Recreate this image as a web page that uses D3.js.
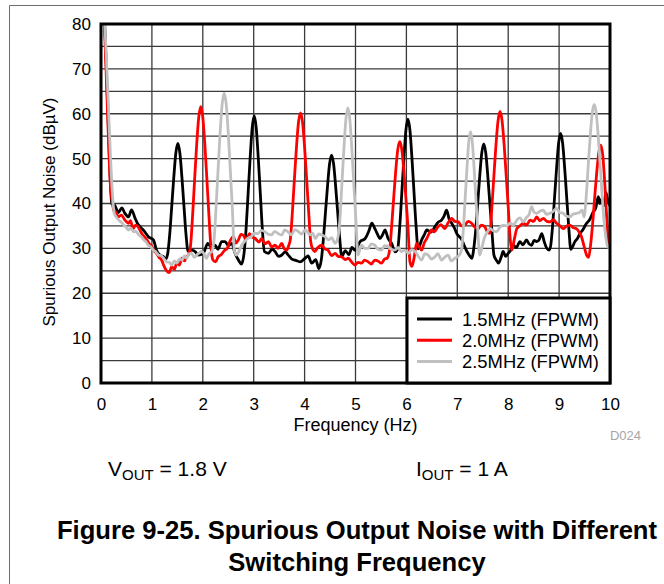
<!DOCTYPE html>
<html>
<head>
<meta charset="utf-8">
<script src="https://cdn.jsdelivr.net/npm/d3@7"></script>
<style>
  body { margin: 0; background: #fff; }
  svg { display: block; }
  text { font-family: "Liberation Sans", Arial, Helvetica, sans-serif; }
</style>
</head>
<body>
<svg id="chart" width="664" height="584"></svg>
<script>
// Spectrum traces: [frequency (Hz), noise (dBµV)]
const trace15 = [
  [0.02,88],[0.08,78],[0.13,62],[0.18,46],[0.21,40],[0.27,39.6],[0.34,38],[0.41,39],[0.47,37.8],[0.54,37],[0.6,38.6],[0.67,36.7],[0.72,35.5],[0.77,34.8],[0.86,33.7],[0.93,32.6],[1.03,31.9],[1.09,29.6],[1.16,28.5],[1.22,28.2],[1.27,27.6],
  [1.31,28.8],[1.35,33.1],[1.39,39.4],[1.43,45.8],[1.47,51.2],[1.51,53.4],[1.55,51.2],[1.59,45.8],[1.63,39.4],[1.67,33.1],[1.71,29.4],
  [1.78,29.6],[1.85,29.3],[1.91,28.5],[2.01,28.9],[2.1,31.1],[2.17,30.2],[2.24,30.7],[2.3,29.8],[2.37,31.5],[2.44,31.5],[2.5,30.6],[2.57,31.1],[2.63,29],[2.7,27.4],[2.76,26.5],
  [2.81,28.9],[2.85,34.3],[2.89,42.2],[2.93,50.1],[2.97,56.8],[3.01,59.5],[3.05,56.8],[3.09,50.1],[3.13,42.2],[3.17,34.3],[3.21,29.3],
  [3.29,28.9],[3.36,29.8],[3.42,29.3],[3.49,28.2],[3.55,28.5],[3.62,29.2],[3.68,28.5],[3.75,27.6],[3.81,27.4],[3.91,27.0],[4.01,27.8],[4.07,28.3],[4.14,26.7],[4.22,27.5],[4.28,25.5],[4.33,27.6],
  [4.37,32.2],[4.41,38.0],[4.45,43.8],[4.49,48.8],[4.53,50.8],[4.57,48.8],[4.61,43.8],[4.65,38.0],[4.69,32.2],[4.73,28.2],
  [4.8,29.5],[4.87,28.6],[4.93,30.2],[4.99,29.6],[5.09,31.5],[5.19,32.2],[5.26,33.8],[5.32,35.6],[5.38,34.4],[5.43,33.2],[5.48,32.2],[5.53,33.0],[5.58,34.1],[5.64,32.2],[5.71,31.1],[5.78,29.2],
  [5.83,29.9],[5.87,35.0],[5.91,42.4],[5.95,49.9],[5.99,56.3],[6.03,58.8],[6.07,56.3],[6.11,49.9],[6.15,42.4],[6.19,35.0],[6.23,29.9],
  [6.3,31.9],[6.35,33.0],[6.4,34.1],[6.48,33.6],[6.56,34.8],[6.62,35.8],[6.69,36.3],[6.74,37.2],[6.79,38.5],[6.84,36.5],[6.89,35.6],[6.94,34.6],[6.99,33.3],[7.09,31.9],[7.14,30.5],[7.19,29.3],[7.24,28.4],[7.29,27.8],
  [7.32,29.7],[7.36,33.9],[7.40,39.9],[7.44,46.0],[7.48,51.2],[7.52,53.3],[7.56,51.2],[7.60,46.0],[7.64,39.9],[7.68,33.9],[7.72,28.5],
  [7.76,27.5],[7.81,26.7],[7.86,28.0],[7.9,29.3],[7.95,28.2],[8.0,28.9],[8.05,29.6],[8.1,30.7],[8.16,30.2],[8.23,31.5],[8.29,30.8],[8.36,31.9],[8.41,31.0],[8.46,30.7],[8.51,31.8],[8.56,31.5],[8.61,32.0],[8.66,33.3],[8.71,31.4],[8.76,30.0],[8.8,29.6],
  [8.83,30.3],[8.87,34.7],[8.91,41.2],[8.95,47.8],[8.99,53.4],[9.03,55.6],[9.07,53.4],[9.11,47.8],[9.15,41.2],[9.19,34.7],[9.23,29.8],
  [9.27,30.5],[9.31,31.5],[9.36,32.2],[9.41,33.3],[9.47,34.2],[9.54,35.6],[9.6,36.4],[9.67,38.1],[9.72,39.0],[9.77,41.5],[9.8,40.0],[9.84,41.0],[9.88,39.5],[9.92,42.5],[9.96,40.5],[10.0,39.5]
];

const trace20 = [
  [0.02,87],[0.08,76],[0.13,60],[0.18,45],[0.22,40.5],[0.25,38.5],[0.29,38.1],[0.34,37],[0.4,37.4],[0.47,36.3],[0.54,35.6],[0.58,36.2],[0.63,34.4],[0.68,35.2],[0.73,34.8],[0.8,33.3],[0.85,32.6],[0.9,31.9],[0.95,31.0],[1.0,30.4],[1.05,29.4],[1.09,28.9],[1.14,28.0],[1.19,27.4],[1.24,26.0],[1.29,25.0],[1.34,24.6],[1.39,25.9],[1.44,25.3],[1.49,26.7],[1.54,26.3],[1.59,27.8],[1.64,27.2],[1.68,28.1],[1.72,28.6],
  [1.76,30.7],[1.80,37.4],[1.84,45.5],[1.88,53.2],[1.92,59.2],[1.96,61.6],[2.00,59.2],[2.04,53.2],[2.08,45.5],[2.12,37.4],[2.16,30.2],
  [2.2,27.4],[2.25,27.0],[2.3,28.1],[2.36,28.6],[2.43,29.6],[2.48,30.0],[2.53,31.5],[2.6,32.6],[2.65,31.2],[2.7,31.9],[2.75,33.1],[2.79,33.0],[2.85,32.0],[2.92,33.3],[2.97,32.5],[3.03,32.2],[3.1,31.4],[3.16,32.2],[3.22,31.0],[3.29,31.5],[3.35,30.3],[3.42,30.7],[3.48,30.0],[3.55,31.1],[3.6,29.9],[3.65,29.6],[3.69,30.7],
  [3.72,32.0],[3.76,38.1],[3.80,45.5],[3.84,52.5],[3.88,58.1],[3.92,60.2],[3.96,58.1],[4.00,52.5],[4.04,45.5],[4.08,38.1],[4.12,31.5],
  [4.16,29.8],[4.2,29.3],[4.26,30.2],[4.33,30.7],[4.4,29.9],[4.46,29.6],[4.53,28.4],[4.6,28.9],[4.66,28.2],[4.73,28.1],[4.8,27.5],[4.86,27.8],[4.92,27.0],[4.99,26.3],[5.05,26.9],[5.12,26.7],[5.18,27.4],[5.25,27.0],[5.31,26.5],[5.38,27.4],[5.44,27.2],[5.51,26.7],[5.57,27.6],[5.62,27.8],
  [5.67,29.6],[5.71,34.9],[5.75,41.2],[5.79,47.2],[5.83,52.0],[5.87,53.8],[5.91,52.0],[5.95,47.2],[5.99,41.2],[6.03,34.9],[6.07,27.0],
  [6.11,26.0],[6.15,27.8],[6.2,31.1],[6.25,30.4],[6.3,29.6],[6.35,31.2],[6.4,32.2],[6.45,33.4],[6.49,34.1],[6.55,33.7],[6.62,34.8],[6.68,35.3],[6.75,34.4],[6.82,35.7],[6.89,36.7],[6.95,36.0],[7.02,35.9],[7.08,35.0],[7.15,35.2],[7.21,36.0],[7.28,35.6],[7.34,34.8],[7.41,34.4],[7.47,35.2],[7.54,34.8],[7.6,33.5],
  [7.64,33.4],[7.68,39.3],[7.72,46.3],[7.76,53.1],[7.80,58.4],[7.84,60.5],[7.88,58.4],[7.92,53.1],[7.96,46.3],[8.00,39.3],[8.04,32.0],
  [8.07,29.6],[8.12,32.0],[8.17,34.4],[8.23,35.0],[8.3,35.6],[8.36,35.2],[8.43,36.3],[8.5,36.0],[8.56,37.0],[8.62,36.2],[8.69,36.7],[8.76,36.0],[8.82,35.9],[8.89,36.4],[8.95,35.6],[9.02,35.0],[9.08,34.4],[9.15,35.0],[9.21,35.2],[9.28,34.6],[9.34,34.4],[9.4,33.5],[9.44,32.6],[9.49,30.5],[9.54,28.5],[9.58,28.0],
  [9.62,30.9],[9.66,35.7],[9.70,41.5],[9.74,47.0],[9.78,51.3],[9.82,53.0],[9.86,50.5],[9.90,44.0],[9.94,36.0],[9.97,31.0],[10.0,30.0]
];

const trace25 = [
  [0.02,89],[0.08,79],[0.13,66],[0.18,52],[0.22,43],[0.26,37.8],[0.3,37.0],[0.35,36.3],[0.4,35.8],[0.45,35.2],[0.5,34.6],[0.54,34.1],[0.59,34.5],[0.64,33.7],[0.69,33.8],[0.74,33.0],[0.79,32.6],[0.84,31.9],[0.88,31.5],[0.93,30.7],[0.98,30.3],[1.03,29.6],[1.08,29.2],[1.13,28.5],[1.18,28.4],[1.23,27.8],[1.29,27.0],[1.34,26.9],[1.39,26.3],[1.44,27.2],[1.49,26.7],[1.54,27.6],[1.59,27.4],[1.64,28.3],[1.68,27.8],[1.73,28.8],[1.78,28.9],[1.83,28.0],[1.88,28.5],[1.93,29.0],[1.98,29.3],[2.03,28.7],[2.07,27.8],[2.12,28.8],[2.17,29.2],
  [2.22,31.8],[2.26,39.0],[2.30,47.5],[2.34,55.7],[2.38,62.1],[2.42,64.6],[2.46,62.1],[2.50,55.7],[2.54,47.5],[2.58,39.0],[2.62,29.5],
  [2.66,28.5],[2.72,29.6],[2.77,30.8],[2.82,31.5],[2.88,32.2],[2.95,32.6],[3.01,33.4],[3.08,33.3],[3.15,34.0],[3.22,33.7],[3.28,33.2],[3.35,33.0],[3.41,33.8],[3.48,33.3],[3.55,33.0],[3.61,34.1],[3.68,33.6],[3.74,33.0],[3.81,34.2],[3.88,33.7],[3.94,33.2],[4.01,34.1],[4.06,33.6],[4.11,33.0],[4.16,33.4],[4.21,32.2],[4.28,33.2],[4.34,33.0],[4.4,32.6],[4.47,31.9],[4.53,32.4],[4.6,31.1],
  [4.65,32.2],[4.69,35.9],[4.73,43.8],[4.77,51.8],[4.81,58.6],[4.85,61.3],[4.89,58.6],[4.93,51.8],[4.97,43.8],[5.01,35.9],[5.05,28.5],
  [5.08,29.5],[5.12,30.7],[5.18,30.0],[5.25,30.0],[5.31,31.0],[5.38,30.7],[5.44,29.8],[5.51,29.6],[5.57,30.6],[5.64,30.4],[5.7,29.8],[5.77,29.6],[5.84,30.2],[5.9,29.3],[5.97,29.6],[6.04,28.9],[6.1,29.7],[6.17,29.3],[6.23,28.3],[6.3,27.4],[6.36,28.8],[6.43,28.5],[6.49,27.6],[6.56,28.1],[6.62,28.8],[6.69,27.4],[6.75,28.0],[6.82,28.5],[6.88,27.2],[6.95,27.8],[7.02,28.3],
  [7.08,29.5],[7.12,34.4],[7.155,41.2],[7.19,47.9],[7.225,53.7],[7.26,56.0],[7.295,53.7],[7.33,47.9],[7.365,41.2],[7.40,34.4],[7.44,28.5],
  [7.49,30.5],[7.54,32.6],[7.59,33.6],[7.64,34.4],[7.7,34.0],[7.77,33.7],[7.83,34.6],[7.9,35.2],[7.97,35.0],[8.04,35.6],[8.1,35.2],[8.17,36.3],[8.23,36.8],[8.3,35.9],[8.36,36.9],[8.41,37.5],[8.46,39.3],[8.51,38.0],[8.56,37.8],[8.62,38.3],[8.69,38.5],[8.75,37.6],[8.82,37.8],[8.88,38.2],[8.95,38.9],[9.01,38.0],[9.08,37.8],[9.14,37.2],[9.21,37.0],[9.27,37.6],[9.34,37.8],[9.4,38.0],[9.45,38.5],
  [9.49,37.0],[9.53,41.1],[9.57,48.1],[9.61,54.8],[9.65,60.1],[9.69,62.1],[9.73,60.1],[9.77,54.8],[9.81,48.1],[9.85,41.1],[9.89,35.3],[9.93,31.5],[9.97,30.2],[10.0,31.0]
];

const seriesNames = ["1.5MHz (FPWM)", "2.0MHz (FPWM)", "2.5MHz (FPWM)"];
const seriesColors = ["#000000", "#ff0000", "#c0c0c0"];
const xTicks = [0, 1, 2, 3, 4, 5, 6, 7, 8, 9, 10];
const yTicks = [0, 10, 20, 30, 40, 50, 60, 70, 80];
const yGrid = [5, 10, 15, 20, 25, 30, 35, 40, 45, 50, 55, 60, 65, 70, 75];

const FONT = '"Liberation Sans", Arial, Helvetica, sans-serif';
const svg = d3.select("#chart");

// Plot box
const L = 101, R = 610, T = 24, B = 383;
const x = d3.scaleLinear().domain([0, 10]).range([L, R]);
const y = d3.scaleLinear().domain([0, 80]).range([B, T]);

// Outer figure frame
svg.append("path")
  .attr("d", `M9.5,584 V5.5 H664`)
  .attr("fill", "none").attr("stroke", "#6e6e6e").attr("stroke-width", 1);

// Grid
const grid = svg.append("g").attr("stroke", "#3a3a3a").attr("stroke-width", 1.3);
grid.selectAll("line.v").data(xTicks.slice(1, -1)).join("line")
  .attr("x1", d => x(d)).attr("x2", d => x(d)).attr("y1", T).attr("y2", B);
grid.selectAll("line.h").data(yGrid).join("line")
  .attr("x1", L).attr("x2", R).attr("y1", d => y(d)).attr("y2", d => y(d));

// Traces
svg.append("defs").append("clipPath").attr("id", "plotClip")
  .append("rect").attr("x", L).attr("y", T).attr("width", R - L).attr("height", B - T);

const line = d3.line().x(d => x(d[0])).y(d => y(d[1])).curve(d3.curveMonotoneX);
const traces = [trace15, trace20, trace25];
svg.append("g").attr("clip-path", "url(#plotClip)")
  .selectAll("path").data(traces).join("path")
  .attr("d", line)
  .attr("fill", "none")
  .attr("stroke", (d, i) => seriesColors[i])
  .attr("stroke-width", 2.8)
  .attr("stroke-linejoin", "round");

// Plot frame
svg.append("rect").attr("x", L).attr("y", T).attr("width", R - L).attr("height", B - T)
  .attr("fill", "none").attr("stroke", "#000").attr("stroke-width", 3);

// Axes labels
const yAxis = svg.append("g").attr("transform", `translate(${L},0)`)
  .call(d3.axisLeft(y).tickValues(yTicks).tickSize(0).tickPadding(10));
yAxis.select(".domain").remove();
yAxis.attr("font-family", FONT).attr("font-size", 17);
yAxis.selectAll("text").attr("fill", "#000");

const xAxis = svg.append("g").attr("transform", `translate(0,${B})`)
  .call(d3.axisBottom(x).tickValues(xTicks).tickSize(0).tickPadding(15));
xAxis.select(".domain").remove();
xAxis.attr("font-family", FONT).attr("font-size", 17);
xAxis.selectAll("text").attr("fill", "#000");

svg.append("text")
  .attr("x", (L + R) / 2).attr("y", 431)
  .attr("text-anchor", "middle").attr("font-size", 18)
  .text("Frequency (Hz)");

svg.append("text")
  .attr("transform", "translate(55,212) rotate(-90)")
  .attr("text-anchor", "middle").attr("font-size", 17)
  .text("Spurious Output Noise (dBµV)");

svg.append("text")
  .attr("x", 641).attr("y", 440)
  .attr("text-anchor", "end").attr("font-size", 13).attr("fill", "#a6a6a6")
  .text("D024");

// Legend
const legend = svg.append("g");
legend.append("rect").attr("x", 407).attr("y", 298).attr("width", R - 407).attr("height", B - 298)
  .attr("fill", "#fff").attr("stroke", "#000").attr("stroke-width", 3);
const items = legend.selectAll("g.item").data(seriesNames).join("g")
  .attr("transform", (d, i) => `translate(0,${319 + i * 21.3})`);
items.append("line").attr("x1", 417).attr("x2", 452).attr("y1", 0).attr("y2", 0)
  .attr("stroke", (d, i) => seriesColors[i]).attr("stroke-width", 3);
items.append("text").attr("x", 462).attr("y", 6.5).attr("font-size", 18.4).text(d => d);

// Conditions
const cond = svg.append("g").attr("font-size", 21);
const v = cond.append("text").attr("x", 108).attr("y", 476);
v.append("tspan").text("V");
v.append("tspan").attr("font-size", 15).attr("dy", 4).text("OUT");
v.append("tspan").attr("dy", -4).text(" = 1.8 V");
const iout = cond.append("text").attr("x", 416).attr("y", 476);
iout.append("tspan").text("I");
iout.append("tspan").attr("font-size", 15).attr("dy", 4).text("OUT");
iout.append("tspan").attr("dy", -4).text(" = 1 A");

// Caption
const cap = svg.append("g").attr("font-weight", "bold").attr("font-size", 25.6).attr("text-anchor", "middle");
cap.append("text").attr("x", 357).attr("y", 539).text("Figure 9-25. Spurious Output Noise with Different");
cap.append("text").attr("x", 357).attr("y", 571).text("Switching Frequency");
</script>
</body>
</html>
